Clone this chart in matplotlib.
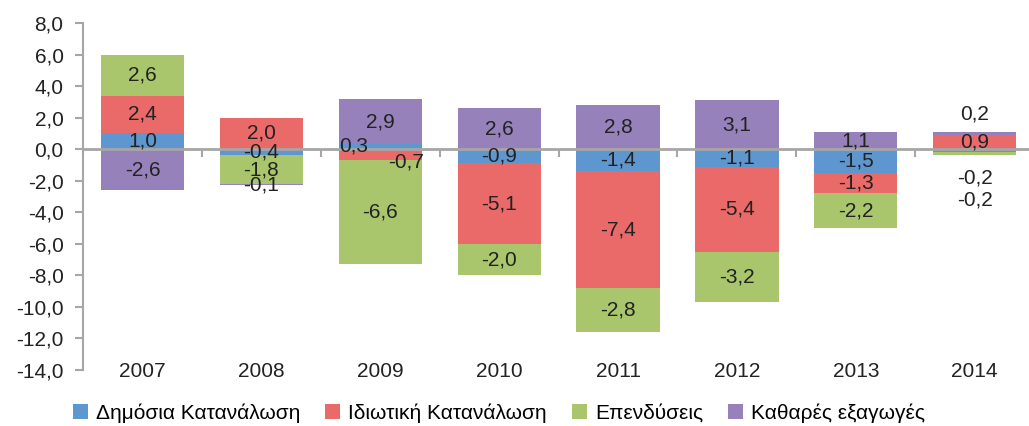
import matplotlib.pyplot as plt
import matplotlib.transforms as mtransforms
import numpy as np

years = ["2007", "2008", "2009", "2010", "2011", "2012", "2013", "2014"]
series_names = ["Δημόσια Κατανάλωση", "Ιδιωτική Κατανάλωση", "Επενδύσεις", "Καθαρές εξαγωγές"]
public = [1.0, -0.4, 0.3, -0.9, -1.4, -1.1, -1.5, -0.2]
private = [2.4, 2.0, -0.7, -5.1, -7.4, -5.4, -1.3, 0.9]
investment = [2.6, -1.8, -6.6, -2.0, -2.8, -3.2, -2.2, -0.2]
net_exports = [-2.6, -0.1, 2.9, 2.6, 2.8, 3.1, 1.1, 0.2]
colors = ["#5e97cf", "#e96a68", "#aac66d", "#9681ba"]

# label nudges (x offset in categories, y offset in data units) for crowded segments
nudges = {
    (2, 0): (-0.22, 0.05),
    (2, 1): (0.22, -0.45),
    (7, 0): (0.0, -1.7),
    (7, 2): (0.0, -2.9),
    (7, 3): (0.0, 1.2),
}

plt.rcParams["font.family"] = ["Liberation Sans", "DejaVu Sans"]

fig = plt.figure(figsize=(10.29, 4.26), dpi=100)
ax = fig.add_axes([83 / 1029, 1 - 370 / 426, 1 - 83 / 1029 + 0.005, (370 - 23) / 426])

x = np.arange(len(years))
width = 0.7
pos_base = np.zeros(len(years))
neg_base = np.zeros(len(years))
all_series = [public, private, investment, net_exports]
for si, (vals, color, name) in enumerate(zip(all_series, colors, series_names)):
    vals = np.array(vals)
    bottoms = np.where(vals >= 0, pos_base, neg_base)
    ax.bar(x, vals, width, bottom=bottoms, color=color, label=name, zorder=2)
    for i, v in enumerate(vals):
        dx, dy = nudges.get((i, si), (0, 0))
        ax.text(x[i] + dx, bottoms[i] + v / 2 + dy, f"{v:.1f}".replace(".", ","),
                ha="center", va="center", fontsize=15, color="#222222", zorder=4)
    pos_base += np.where(vals >= 0, vals, 0)
    neg_base += np.where(vals < 0, vals, 0)

ax.set_ylim(-14, 8)
ax.set_xlim(-0.5, 7.5)
ax.set_yticks(np.arange(-14, 9, 2))
ax.set_yticklabels([f"{t:.1f}".replace(".", ",") for t in np.arange(-14, 9, 2)])
ax.tick_params(axis="y", direction="out", length=6, width=1.5, color="#a6a6a6",
               labelsize=15, labelcolor="#222222", pad=8)

ax.spines["top"].set_visible(False)
ax.spines["right"].set_visible(False)
ax.spines["left"].set_color("#a6a6a6")
ax.spines["left"].set_linewidth(1.5)
ax.spines["bottom"].set_position(("data", 0))
ax.spines["bottom"].set_color("#a6a6a6")
ax.spines["bottom"].set_linewidth(2)
ax.spines["bottom"].set_zorder(3)

ax.set_xticks(np.arange(-0.5, 8, 1))
ax.set_xticklabels([])
ax.tick_params(axis="x", direction="out", length=6, width=1.5, color="#a6a6a6")

trans = mtransforms.blended_transform_factory(ax.transData, ax.transAxes)
for xi, yr in zip(x, years):
    ax.text(xi, -0.005, yr, transform=trans, ha="center", va="center",
            fontsize=15, color="#222222")

ax.legend(loc="center", bbox_to_anchor=(0.485, 0.03), bbox_transform=fig.transFigure,
          ncol=4, frameon=False, fontsize=15, handlelength=0.7, handleheight=0.7,
          handletextpad=0.4, columnspacing=1.2)

fig.savefig("out.png", dpi=100)
